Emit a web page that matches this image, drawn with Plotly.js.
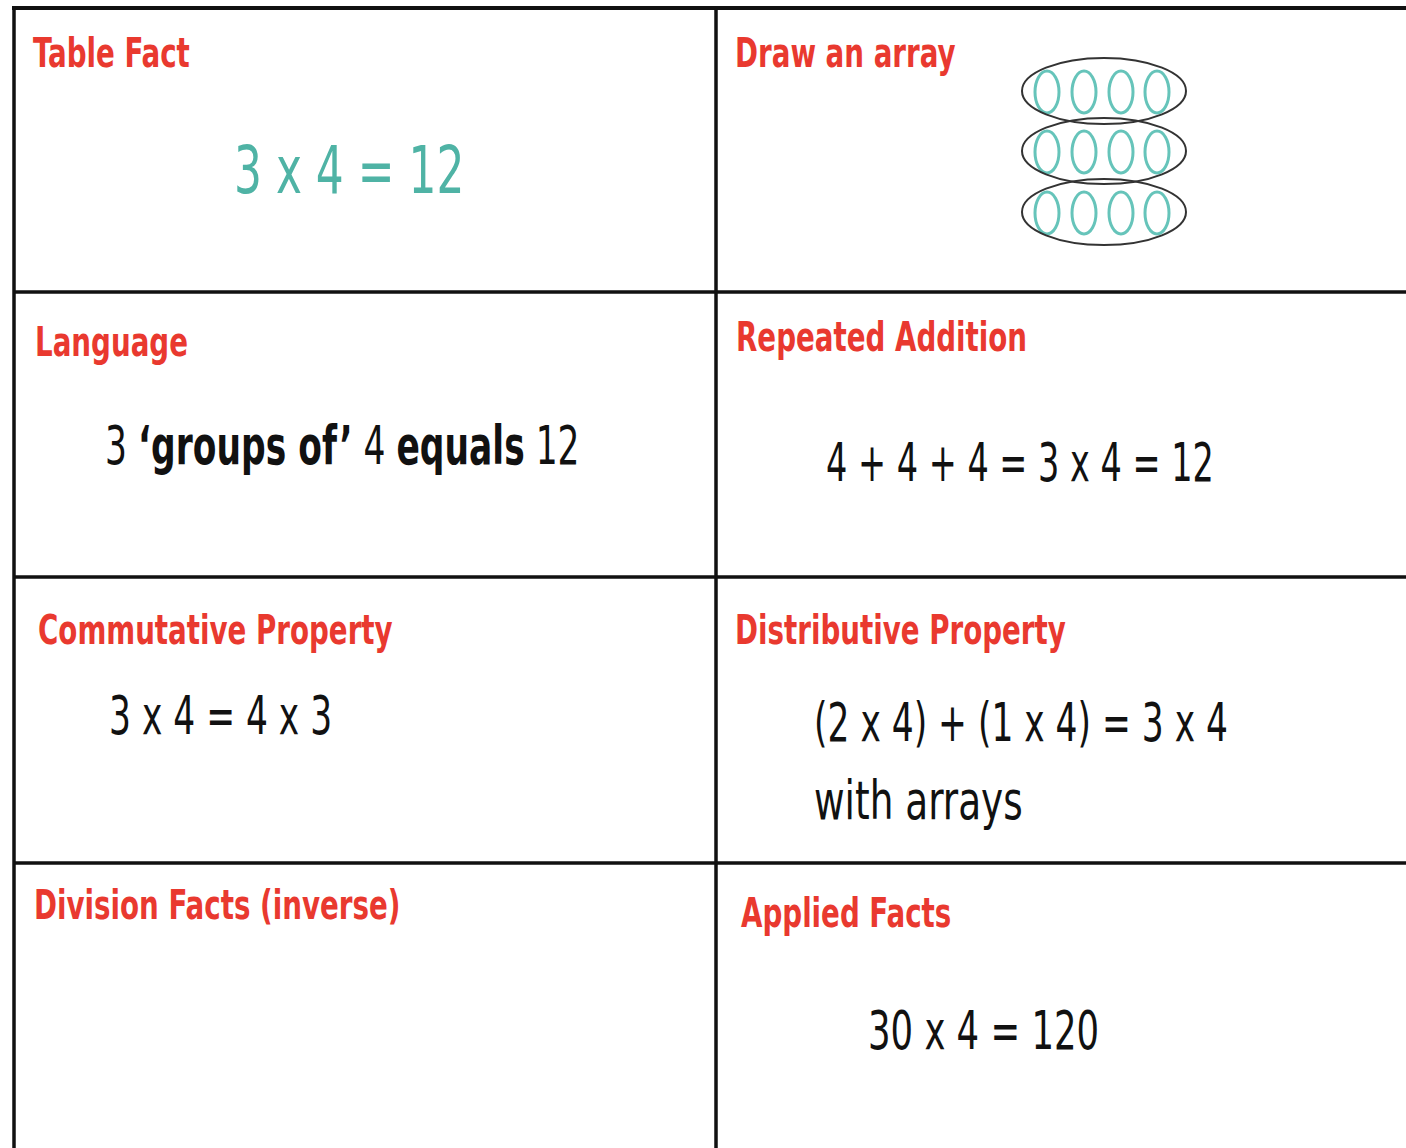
<!DOCTYPE html>
<html>
<head>
<meta charset="utf-8">
<script src="https://cdn.plot.ly/plotly-3.0.1.min.js"></script>
<style>html,body{margin:0;padding:0;background:#fff;}#chart{width:1406px;height:1148px;}</style>
</head>
<body>
<div id="chart"></div>
<script>
// ---- data ----
var headings = ["Table Fact", "Draw an array", "Language", "Repeated Addition",
                "Commutative Property", "Distributive Property", "Division Facts (inverse)", "Applied Facts"];
var tableFact = "3 x 4 = 12";
var languageText = "3 <b>‘groups of’</b> 4 <b>equals</b> 12";
var repeatedAddition = "4 + 4 + 4 = 3 x 4 = 12";
var commutative = "3 x 4 = 4 x 3";
var distributive = ["(2 x 4) + (1 x 4) = 3 x 4", "with arrays"];
var appliedFact = "30 x 4 = 120";
var arrayGroups = 3;     // rows (groups) in the array drawing
var arrayPerGroup = 4;   // items in each group

// ---- layout geometry ----
var W = 1406, H = 1148;
var gridLeft = 14, gridMid = 716, gridTop = 8;
var rowLines = [292, 577, 863];
var RED = "#e9392f", TEAL = "#4fb3a5", TEAL2 = "#66c4ba";
var FONT = "DejaVu Sans Condensed, DejaVu Sans, sans-serif";

var shapes = [];
function line(x0, y0, x1, y1, w) {
  shapes.push({type: "line", xref: "x", yref: "y", x0: x0, y0: y0, x1: x1, y1: y1,
               line: {color: "#111", width: w}});
}
line(gridLeft - 2, gridTop, W, gridTop, 4);
line(gridLeft, gridTop, gridLeft, H, 3.5);
line(gridMid, gridTop, gridMid, H, 3.5);
rowLines.forEach(function (y) { line(gridLeft, y, W, y, 3.5); });

// array drawing
var gx0 = 1022, gx1 = 1186, gCenters = [91, 151, 212], gH = 66;
var itemX = [1047, 1084, 1121, 1157], itemW = 24, itemH = 42;
for (var r = 0; r < arrayGroups; r++) {
  var cy = gCenters[r];
  for (var c = 0; c < arrayPerGroup; c++) {
    shapes.push({type: "circle", xref: "x", yref: "y",
      x0: itemX[c] - itemW / 2, x1: itemX[c] + itemW / 2, y0: cy - itemH / 2 + 1, y1: cy + itemH / 2 + 1,
      line: {color: TEAL2, width: 3}});
  }
}
for (var r2 = 0; r2 < arrayGroups; r2++) {
  shapes.push({type: "circle", xref: "x", yref: "y",
    x0: gx0, x1: gx1, y0: gCenters[r2] - gH / 2, y1: gCenters[r2] + gH / 2,
    line: {color: "#333", width: 2}});
}

var headPos = [[31, 53], [733, 53], [33, 342], [734, 337], [36, 630], [733, 630], [32, 905], [739, 913]];
var annotations = [], squeeze = [];
headings.forEach(function (h, i) {
  annotations.push({text: "<b>" + h + "</b>", x: headPos[i][0], y: headPos[i][1], xref: "x", yref: "y",
    xanchor: "left", yanchor: "middle", showarrow: false,
    font: {family: FONT, size: 40, color: RED}});
  squeeze.push(0.77);
});
function body(t, x, y, size, sx, color) {
  annotations.push({text: t, x: x, y: y, xref: "x", yref: "y", xanchor: "left", yanchor: "middle",
    showarrow: false, font: {family: FONT, size: size, color: color || "#111"}});
  squeeze.push(sx);
}
body(tableFact, 232, 170, 66, 0.74, TEAL);
body(languageText, 103, 445, 54, 0.71);
body(repeatedAddition, 824, 462, 54, 0.69);
body(commutative, 107, 715, 54, 0.71);
body(distributive[0], 812, 722, 54, 0.71);
body(distributive[1], 812, 800, 54, 0.77);
body(appliedFact, 866, 1030, 54, 0.73);

var layout = {
  width: W, height: H, margin: {l: 0, r: 0, t: 0, b: 0},
  paper_bgcolor: "#fff", plot_bgcolor: "#fff", showlegend: false,
  xaxis: {range: [0, W], visible: false, fixedrange: true},
  yaxis: {range: [H, 0], visible: false, fixedrange: true},
  shapes: shapes, annotations: annotations
};
Plotly.newPlot("chart", [{x: [0], y: [0], mode: "markers", marker: {opacity: 0}, hoverinfo: "skip"}], layout,
  {staticPlot: true, displayModeBar: false}).then(function (gd) {
  // condense the text horizontally (the original uses narrow fonts)
  gd.querySelectorAll("g.annotation").forEach(function (g) {
    var idx = +g.getAttribute("data-index");
    var t = g.querySelector("text.annotation-text");
    if (!t || isNaN(idx)) return;
    var s = squeeze[idx];
    var bx = t.getBBox().x;
    var prev = t.getAttribute("transform") || "";
    t.setAttribute("transform", prev + " translate(" + bx + ",0) scale(" + s + ",1) translate(" + (-bx) + ",0)");
  });
});
</script>
</body>
</html>
